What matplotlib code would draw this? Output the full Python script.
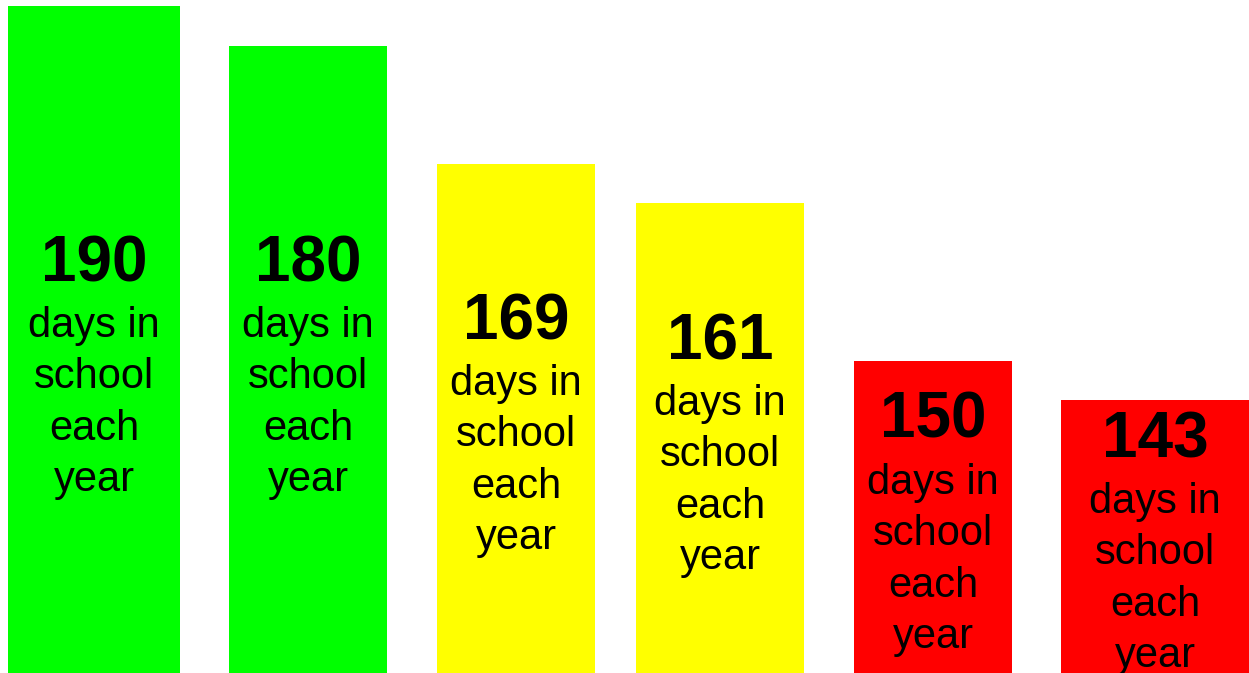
import matplotlib
matplotlib.use("Agg")
import matplotlib.pyplot as plt

# ---- data ----
days = [190, 180, 169, 161, 150, 143]
bar_heights = [667, 627, 509, 470, 312, 273]   # drawn heights
label_lines = ["days in", "school", "each", "year"]
bar_colors = ["#00ff00", "#00ff00", "#ffff00", "#ffff00", "#ff0000", "#ff0000"]

# ---- layout ----
W, H = 1249, 673
bar_left = [8, 229, 437, 636, 854, 1061]
bar_width = [172, 158, 158, 168, 158, 188]
line_offsets = [56, 107, 159, 210]

fig = plt.figure(figsize=(W / 100, H / 100), dpi=100)
ax = fig.add_axes([0, 0, 1, 1])
ax.set_xlim(0, W)
ax.set_ylim(0, H)
ax.axis("off")

ax.bar(bar_left, bar_heights, width=bar_width, align="edge",
       color=bar_colors, edgecolor="none", linewidth=0)

for left, w, h, d in zip(bar_left, bar_width, bar_heights, days):
    cx = left + w / 2
    center_from_top = H - h / 2
    num_base = max(center_from_top - 79, 281)  # distance from top
    ax.text(cx, H - num_base, str(d), ha="center", va="baseline",
            fontsize=46, fontweight="bold", family="Liberation Sans", color="black")
    for off, line in zip(line_offsets, label_lines):
        ax.text(cx, H - (num_base + off), line, ha="center", va="baseline",
                fontsize=30, family="Liberation Sans", color="black")

fig.savefig("out.png", dpi=100, facecolor="white")
